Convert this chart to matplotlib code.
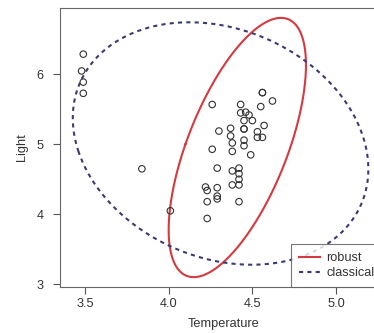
import numpy as np
import matplotlib
matplotlib.use("Agg")
import matplotlib.pyplot as plt
from matplotlib.lines import Line2D

plt.rcParams['font.family'] = ['Liberation Sans', 'DejaVu Sans']

# starsCYG data (log temperature, log light)
temperature = [4.37, 4.56, 4.26, 4.56, 4.30, 4.46, 3.84, 4.57, 4.26, 4.37,
               3.49, 4.43, 4.48, 4.01, 4.29, 4.42, 4.23, 4.42, 4.23, 3.49,
               4.29, 4.29, 4.42, 4.49, 4.38, 4.42, 4.29, 4.38, 4.22, 3.48,
               4.38, 4.56, 4.45, 3.49, 4.23, 4.62, 4.53, 4.45, 4.53, 4.43,
               4.38, 4.45, 4.50, 4.45, 4.55, 4.45, 4.42]
light = [5.23, 5.74, 4.93, 5.74, 5.19, 5.46, 4.65, 5.27, 5.57, 5.12,
         5.73, 5.45, 5.42, 4.05, 4.26, 4.58, 3.94, 4.18, 4.18, 5.89,
         4.38, 4.22, 4.42, 4.85, 5.02, 4.66, 4.66, 4.90, 4.39, 6.05,
         4.42, 5.10, 5.22, 6.29, 4.34, 5.62, 5.10, 5.22, 5.18, 5.57,
         4.62, 5.06, 5.34, 5.34, 5.54, 4.98, 4.50]

# robust (MCD) location / scatter estimate
robust_center = [4.41, 4.955]
robust_cov = [[0.01826, 0.0525], [0.0525, 0.3733]]
chi2_q = 9.2103  # chi-square 0.99 quantile, 2 df

legend_labels = ["robust", "classical"]
xticks = [3.5, 4.0, 4.5, 5.0]
yticks = [3, 4, 5, 6]

def ellipse_pts(center, cov, q, n=400):
    t = np.linspace(0, 2 * np.pi, n)
    vals, vecs = np.linalg.eigh(np.asarray(cov))
    circ = np.vstack([np.cos(t), np.sin(t)])
    pts = vecs @ np.diag(np.sqrt(vals * q)) @ circ
    return pts[0] + center[0], pts[1] + center[1]

X = np.column_stack([temperature, light])
cl_center = X.mean(axis=0)
cl_cov = np.cov(X, rowvar=False)

fig = plt.figure(figsize=(3.74, 3.33), dpi=100)
ax = fig.add_axes([60 / 374, 46 / 333, 327 / 374, 279 / 333])

txt = '#333333'
ax.scatter(temperature, light, s=22, facecolors='none', edgecolors='#333333',
           linewidths=0.8, zorder=3)

rx, ry = ellipse_pts(robust_center, robust_cov, chi2_q)
ax.plot(rx, ry, color='#d43a3f', lw=1.5, zorder=2)
cx, cy = ellipse_pts(cl_center, cl_cov, chi2_q)
ax.plot(cx, cy, color='#3b3b72', lw=1.5, ls=(0, (2.0, 2.0)), zorder=2)

ax.set_xlim(3.351, 5.304)
ax.set_ylim(2.96, 6.95)
ax.set_xticks(xticks)
ax.set_xticklabels(["3.5", "4.0", "4.5", "5.0"])
ax.set_yticks(yticks)
ax.tick_params(direction='out', length=5, width=0.8, colors='#555555',
               labelcolor=txt, labelsize=9.2)
ax.tick_params(axis='x', pad=3)
ax.tick_params(axis='y', pad=7)
for s in ax.spines.values():
    s.set_color('#666666')
    s.set_linewidth(0.8)
ax.set_xlabel("Temperature", fontsize=9.2, color=txt, labelpad=6)
ax.set_ylabel("Light", fontsize=9.2, color=txt, labelpad=6)

handles = [Line2D([], [], color='#d43a3f', lw=1.5),
           Line2D([], [], color='#3b3b72', lw=1.5, ls=(0, (2.0, 2.0)))]
leg = ax.legend(handles, legend_labels, loc='lower right',
                bbox_to_anchor=(1 - 5 / 327, 0), fontsize=9.2,
                frameon=True, fancybox=False, borderaxespad=0,
                handlelength=1.65, handletextpad=0.47, labelspacing=0.25,
                borderpad=0.6, labelcolor=txt)
leg.get_frame().set_edgecolor('#555555')
leg.get_frame().set_linewidth(0.8)

fig.savefig("out.png", dpi=100)
